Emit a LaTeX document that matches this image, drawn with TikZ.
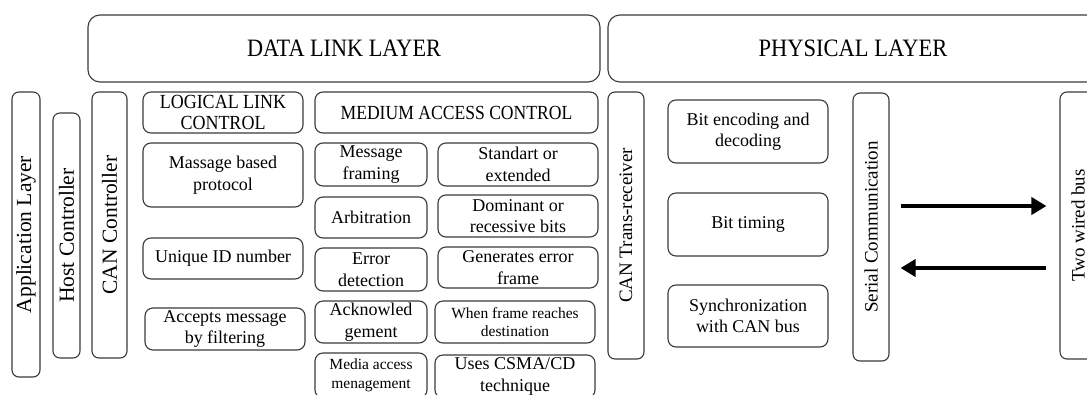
\documentclass[tikz,border=0pt]{standalone}
\usepackage{fontspec}
\setmainfont{Liberation Serif}
\usetikzlibrary{arrows.meta}
\definecolor{edge}{HTML}{3A3A3A}
\tikzset{
  blk/.style={draw=edge, line width=1.1pt, rounded corners=8pt, inner sep=1pt,
    align=center, text=black, font=\fontsize{18}{21.5}\selectfont},
  hdr/.style={blk, rounded corners=12pt, font=\fontsize{25}{28}\selectfont},
  capstxt/.style={font=\fontsize{20}{21.7}\selectfont},
  smalltxt/.style={font=\fontsize{15.5}{18.5}\selectfont},
  vbar/.style={blk, rotate=90, rounded corners=7pt},
  vbig/.style={font=\fontsize{21.5}{24}\selectfont},
  vmid/.style={font=\fontsize{19}{22}\selectfont},
  flow/.style={draw=black, line width=4.5pt, -{Triangle[length=15pt,width=17pt]}},
}
\newcommand{\cnd}[2][0.89]{\scalebox{#1}[1]{#2}}
\begin{document}
\begin{tikzpicture}[x=1pt,y=-1pt]
\useasboundingbox (0,0) rectangle (1087,394);
\clip (0,0) rectangle (1087,394);

% layer headers
\node[hdr, minimum width=512pt, minimum height=67pt] (dll) at (344,48.5) {\cnd{DATA LINK LAYER}};
\node[hdr, minimum width=490pt, minimum height=67pt] (phy) at (853,48.5) {\cnd[0.9]{PHYSICAL LAYER}};

% vertical bars on the left
\node[vbar, vbig, minimum width=285pt, minimum height=28pt] (app) at (26,234.5) {Application Layer};
\node[vbar, vbig, minimum width=245pt, minimum height=27pt] (host) at (66.5,235.5) {Host Controller};
\node[vbar, vbig, minimum width=266pt, minimum height=35pt] (canc) at (109.5,225) {CAN Controller};

% logical link control column
\node[blk, capstxt, minimum width=160pt, minimum height=41pt] (llc) at (223,112.5)
  {\cnd[0.9]{LOGICAL LINK}\\\cnd[0.9]{CONTROL}};
\node[blk, minimum width=160pt, minimum height=64pt] (msgp) at (223,175) {Massage based\\protocol};
\node[blk, minimum width=160pt, minimum height=41pt] (uid) at (223,258.5) {Unique ID number};
\node[blk, minimum width=160pt, minimum height=42pt] (acc) at (225,329) {Accepts message\\by filtering};

% medium access control column
\node[blk, capstxt, minimum width=283pt, minimum height=41pt] (mac) at (456.5,112.5) {\cnd[0.88]{MEDIUM ACCESS CONTROL}};
\node[blk, minimum width=112pt, minimum height=43pt] (mf) at (371,164.5) {Message\\framing};
\node[blk, minimum width=160pt, minimum height=43pt] (std) at (518,164.5) {Standart or\\extended};
\node[blk, minimum width=112pt, minimum height=41pt] (arb) at (371,217.5) {Arbitration};
\node[blk, minimum width=160pt, minimum height=42pt] (dom) at (518,216) {Dominant or\\recessive bits};
\node[blk, minimum width=112pt, minimum height=43pt] (err) at (371,269.5) {Error\\detection};
\node[blk, minimum width=160pt, minimum height=41pt] (gen) at (518,267.5) {Generates error\\frame};
\node[blk, minimum width=112pt, minimum height=42pt] (ack) at (371,322) {Acknowled\\gement};
\node[blk, smalltxt, minimum width=160pt, minimum height=42pt] (when) at (515,322) {When frame reaches\\destination};
\node[blk, smalltxt, minimum width=112pt, minimum height=45pt] (media) at (371,375.5) {Media access\\menagement};
\node[blk, minimum width=160pt, minimum height=43pt] (uses) at (515,376.5) {Uses CSMA/CD\\technique};

% physical layer
\node[vbar, vmid, minimum width=267pt, minimum height=36pt] (trx) at (626,225.5) {CAN Trans-receiver};
\node[blk, minimum width=160pt, minimum height=63pt] (enc) at (748,131.5) {Bit encoding and\\decoding};
\node[blk, minimum width=160pt, minimum height=63pt] (timing) at (748,224.5) {Bit timing};
\node[blk, minimum width=160pt, minimum height=62pt] (sync) at (748,316) {Synchronization\\with CAN bus};
\node[vbar, vmid, minimum width=268pt, minimum height=36pt] (serial) at (871,227) {Serial Communication};
\node[vbar, vmid, minimum width=267pt, minimum height=36pt] (bus) at (1078,225.5) {Two wired bus};

% data flow between the serial link and the bus
\coordinate (upper) at (0,206);
\coordinate (lower) at (0,268);
\draw[flow, shorten <=11pt, shorten >=13pt] (serial.south |- upper) -- (bus.north |- upper);
\draw[flow, shorten <=13pt, shorten >=11pt] (bus.north |- lower) -- (serial.south |- lower);
\end{tikzpicture}
\end{document}
